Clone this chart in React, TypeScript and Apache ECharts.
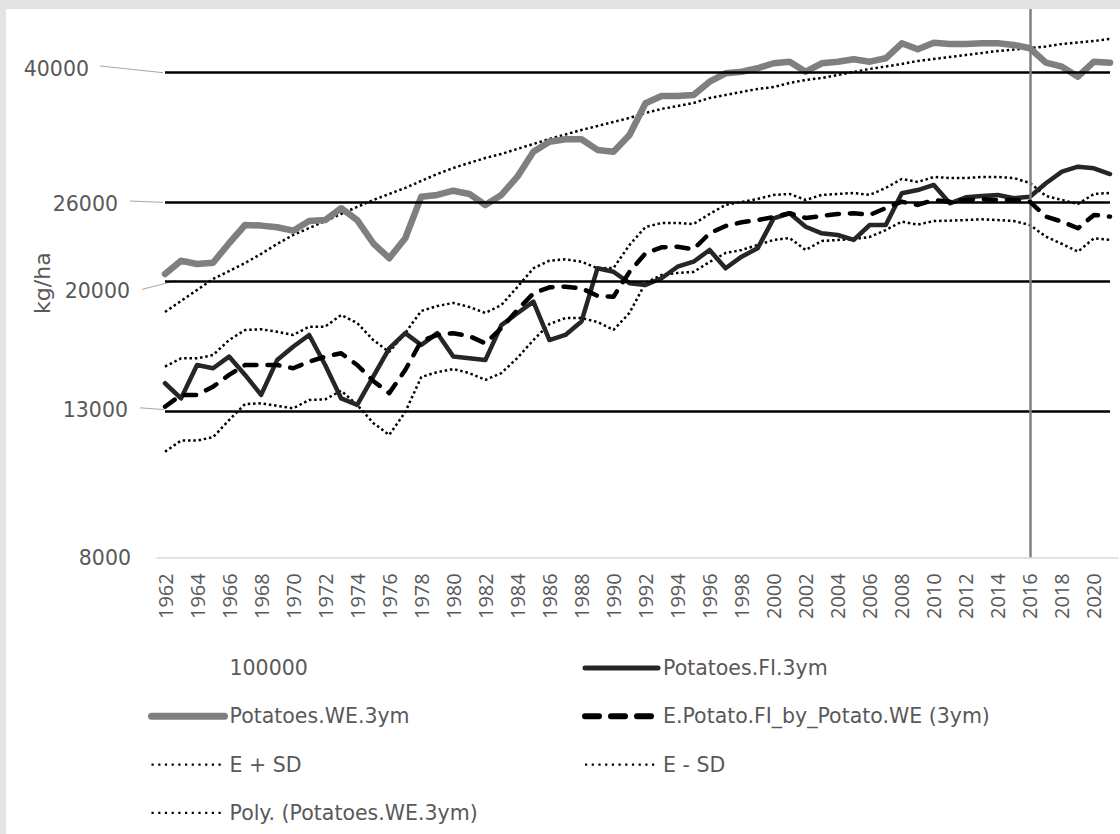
import React, { useEffect, useRef } from 'react';
import * as echarts from 'echarts';

const years = [
  '1962', '1963', '1964', '1965', '1966', '1967', '1968', '1969', '1970', '1971',
  '1972', '1973', '1974', '1975', '1976', '1977', '1978', '1979', '1980', '1981',
  '1982', '1983', '1984', '1985', '1986', '1987', '1988', '1989', '1990', '1991',
  '1992', '1993', '1994', '1995', '1996', '1997', '1998', '1999', '2000', '2001',
  '2002', '2003', '2004', '2005', '2006', '2007', '2008', '2009', '2010', '2011',
  '2012', '2013', '2014', '2015', '2016', '2017', '2018', '2019', '2020', '2021',
];

const potatoesWE = [
  20500, 21420, 21190, 21280, 22700, 24120, 24070, 23940, 23670, 24440,
  24520, 25500, 24520, 22700, 21600, 23080, 26500, 26650, 27030, 26740,
  25780, 26650, 28320, 30770, 31810, 32070, 32070, 30950, 30770, 32520,
  36140, 37020, 37020, 37140, 38820, 39920, 40130, 40590, 41270, 41490,
  40130, 41270, 41490, 41820, 41490, 41960, 44100, 43230, 44190, 44000,
  44000, 44100, 44100, 43860, 43380, 41350, 40800, 39470, 41490, 41350,
];

const potatoesFI = [
  14260, 13560, 15150, 14990, 15580, 14660, 13720, 15400, 16100, 16740,
  15150, 13560, 13270, 14580, 16010, 16840, 16190, 16840, 15580, 15490,
  15400, 17300, 17990, 18700, 16460, 16740, 17500, 20890, 20650, 19880,
  19760, 20210, 21000, 21350, 22200, 20890, 21710, 22320, 24660, 25080,
  23980, 23460, 23330, 22950, 24120, 24120, 26800, 27090, 27550, 25920,
  26440, 26560, 26650, 26360, 26500, 27710, 28790, 29270, 29120, 28570,
];

const estimateE = [
  13190, 13720, 13720, 14100, 14660, 15150, 15150, 15150, 14990, 15320,
  15580, 15750, 15150, 14370, 13800, 14900, 16410, 16740, 16840, 16680,
  16280, 17120, 18190, 19220, 19610, 19650, 19550, 19060, 19010, 20640,
  21960, 22400, 22440, 22250, 23460, 24040, 24340, 24520, 24770, 25080,
  24690, 24850, 25020, 25080, 24940, 25510, 26060, 25780, 26210, 26060,
  26210, 26270, 26210, 26210, 26060, 24800, 24390, 23860, 24940, 24800,
];

const ePlusSD = [
  15070, 15490, 15490, 15660, 16460, 17020, 17060, 16920, 16740, 17210,
  17210, 17890, 17420, 16460, 15820, 16850, 18130, 18430, 18620, 18370,
  18010, 18490, 19630, 20890, 21420, 21520, 21350, 20890, 20910, 22570,
  23960, 24280, 24280, 24200, 25020, 25780, 26040, 26300, 26650, 26740,
  26210, 26650, 26740, 26830, 26650, 27280, 28100, 27820, 28290, 28190,
  28190, 28290, 28290, 28190, 27730, 26560, 26210, 25860, 26740, 26830,
];

const eMinusSD = [
  11360, 11790, 11790, 11920, 12620, 13310, 13340, 13230, 13120, 13490,
  13520, 13910, 13270, 12500, 12010, 12960, 14560, 14800, 14950, 14750,
  14420, 14750, 15510, 16460, 17360, 17710, 17710, 17480, 17020, 18010,
  19900, 20430, 20570, 20640, 21330, 21980, 22200, 22570, 22950, 23100,
  22200, 22870, 22950, 23020, 23180, 23720, 24390, 24150, 24440, 24470,
  24520, 24580, 24520, 24440, 24120, 23200, 22650, 22080, 23080, 22950,
];

const polyTrendWE = [
  18070, 18740, 19440, 20160, 20700, 21260, 21910, 22650, 23330, 23880,
  24440, 25020, 25610, 26210, 26740, 27280, 27920, 28570, 29150, 29640,
  30130, 30540, 31050, 31570, 32090, 32580, 33070, 33510, 33960, 34420,
  34990, 35460, 35810, 36170, 36780, 37140, 37520, 37890, 38140, 38660,
  39040, 39300, 39700, 40090, 40500, 40830, 41170, 41580, 41860, 42140,
  42420, 42700, 42990, 43200, 43420, 43640, 44000, 44220, 44440, 44740,
];

const yTickValues = [8000, 13000, 20000, 26000, 40000];
const gridValues = [13000, 20000, 26000, 40000];
const markerYear = '2016';
const yMin = 8000;
const yMax = 49420;

const names = {
  hundred: '100000',
  fi: 'Potatoes.FI.3ym',
  we: 'Potatoes.WE.3ym',
  e: 'E.Potato.FI_by_Potato.WE (3ym)',
  plus: 'E + SD',
  minus: 'E - SD',
  poly: 'Poly. (Potatoes.WE.3ym)',
};

// label placement (styling) relative to the tick value's pixel position
const labelLayout: Record<number, { right: number; dy: number; lead?: number[] }> = {
  40000: { right: 83, dy: -3.5, lead: [94, -6.7, 157, 0] },
  26000: { right: 112, dy: 1.6, lead: [124, -1.4, 157, 0] },
  20000: { right: 124, dy: 10, lead: [136, 8, 171, -1] },
  13000: { right: 122, dy: -1, lead: [134, -3.3, 158, -1.5] },
  8000: { right: 125, dy: 0.7 },
};

const FONT = 'DejaVu Sans';
const TXT = '#595959';

export default function App() {
  const ref = useRef<HTMLDivElement>(null);
  useEffect(() => {
    if (!ref.current) return;
    const chart = echarts.init(ref.current, undefined, { renderer: 'svg' });
    const dottedStyle = { color: '#000000', width: 2.5, type: [2.5, 2.8] as any };
    const legendText = { color: TXT, fontSize: 20.5, fontFamily: FONT, lineHeight: 22 };
    const legendDotted = { color: '#000000', width: 2.2, type: [2.2, 4.5] as any, cap: 'butt' };
    const hiddenSymbol = { opacity: 0 };
    const option: any = {
      animation: false,
      backgroundColor: '#ffffff',
      textStyle: { fontFamily: FONT },
      grid: { left: 151, top: 0, width: 961, height: 548.3, containLabel: false },
      xAxis: {
        type: 'category',
        data: years,
        boundaryGap: true,
        axisLine: { show: true, lineStyle: { color: '#d9d9d9', width: 1.5 } },
        axisTick: { show: false },
        axisLabel: {
          interval: 1,
          rotate: 90,
          color: TXT,
          fontSize: 20,
          fontFamily: 'Open Sans',
          margin: 16,
        },
        splitLine: { show: false },
      },
      yAxis: {
        type: 'log',
        logBase: 10,
        min: yMin,
        max: yMax,
        name: 'kg/ha',
        nameLocation: 'middle',
        nameGap: 104,
        nameTextStyle: { color: TXT, fontSize: 22, fontFamily: FONT },
        axisLine: { show: false },
        axisTick: { show: false },
        axisLabel: { show: false },
        splitLine: { show: false },
      },
      legend: [
        {
          orient: 'vertical',
          left: 142,
          top: 648,
          padding: 0,
          itemWidth: 73,
          itemHeight: 14,
          itemGap: 26.3,
          selectedMode: false,
          itemStyle: hiddenSymbol,
          textStyle: legendText,
          data: [
            { name: names.hundred, itemStyle: hiddenSymbol, lineStyle: { width: 0, opacity: 0 } },
            { name: names.we, itemStyle: hiddenSymbol, lineStyle: { color: '#7f7f7f', width: 7, type: 'solid', cap: 'round' } },
            { name: names.plus, itemStyle: hiddenSymbol, lineStyle: legendDotted },
            { name: names.poly, itemStyle: hiddenSymbol, lineStyle: legendDotted },
          ],
        },
        {
          orient: 'vertical',
          left: 576,
          top: 648,
          padding: 0,
          itemWidth: 73,
          itemHeight: 14,
          itemGap: 26.3,
          selectedMode: false,
          itemStyle: hiddenSymbol,
          textStyle: legendText,
          data: [
            { name: names.fi, itemStyle: hiddenSymbol, lineStyle: { color: '#262626', width: 5, type: 'solid', cap: 'round' } },
            { name: names.e, itemStyle: hiddenSymbol, lineStyle: { color: '#000000', width: 6, type: [14, 12], cap: 'round' } },
            { name: names.minus, itemStyle: hiddenSymbol, lineStyle: legendDotted },
          ],
        },
      ],
      series: [
        {
          name: names.hundred,
          type: 'line',
          data: [],
          symbol: 'none',
          itemStyle: { color: '#ffffff' },
          lineStyle: { width: 0 },
          z: 1,
          markLine: {
            silent: true,
            symbol: ['none', 'none'],
            label: { show: false },
            lineStyle: { color: '#000000', width: 2.5, type: 'solid' },
            data: gridValues.map((v) => [
              { coord: [0, v] },
              { coord: [years.length - 1, v] },
            ]),
          },
        },
        {
          name: names.poly,
          type: 'line',
          data: polyTrendWE,
          symbol: 'none',
          itemStyle: { color: '#000000' },
          lineStyle: dottedStyle,
          z: 2,
        },
        {
          name: names.plus,
          type: 'line',
          data: ePlusSD,
          symbol: 'none',
          itemStyle: { color: '#000000' },
          lineStyle: dottedStyle,
          z: 2,
        },
        {
          name: names.minus,
          type: 'line',
          data: eMinusSD,
          symbol: 'none',
          itemStyle: { color: '#000000' },
          lineStyle: dottedStyle,
          z: 2,
        },
        {
          name: names.we,
          type: 'line',
          data: potatoesWE,
          symbol: 'none',
          itemStyle: { color: '#7f7f7f' },
          lineStyle: { color: '#7f7f7f', width: 6.5, cap: 'round', join: 'round' },
          z: 3,
        },
        {
          name: names.fi,
          type: 'line',
          data: potatoesFI,
          symbol: 'none',
          itemStyle: { color: '#262626' },
          lineStyle: { color: '#262626', width: 4.5, cap: 'round', join: 'round' },
          z: 4,
        },
        {
          name: names.e,
          type: 'line',
          data: estimateE,
          symbol: 'none',
          itemStyle: { color: '#000000' },
          lineStyle: { color: '#000000', width: 4.5, type: [12, 11], cap: 'round', join: 'round' },
          z: 5,
        },
        {
          name: 'marker',
          type: 'line',
          data: [],
          symbol: 'none',
          z: 10,
          markLine: {
            silent: true,
            symbol: ['none', 'none'],
            label: { show: false },
            lineStyle: { color: '#808080', width: 2.5, type: 'solid' },
            data: [{ xAxis: markerYear }],
          },
        },
      ],
    };
    chart.setOption(option);

    const elements: any[] = [];
    yTickValues.forEach((v) => {
      const p = chart.convertToPixel({ xAxisIndex: 0, yAxisIndex: 0 } as any, [0, v]) as number[];
      const py = p[1];
      const lay = labelLayout[v];
      elements.push({
        type: 'text',
        x: lay.right,
        y: py + lay.dy,
        style: {
          text: String(v),
          align: 'right',
          verticalAlign: 'middle',
          fill: TXT,
          fontSize: 20.5,
          fontFamily: FONT,
        },
      });
      if (lay.lead) {
        elements.push({
          type: 'line',
          shape: { x1: lay.lead[0], y1: py + lay.lead[1], x2: lay.lead[2], y2: py + lay.lead[3] },
          style: { stroke: '#a6a6a6', lineWidth: 1 },
        });
      }
    });
    chart.setOption({ graphic: { elements } });

    return () => chart.dispose();
  }, []);

  return (
    <div
      style={{
        position: 'absolute',
        left: 0,
        top: 0,
        width: 1120,
        height: 834,
        background: '#e3e3e3',
        overflow: 'hidden',
      }}
    >
      <div
        ref={ref}
        style={{ position: 'absolute', left: 6, top: 9, width: 1114, height: 825, background: '#ffffff' }}
      />
    </div>
  );
}
